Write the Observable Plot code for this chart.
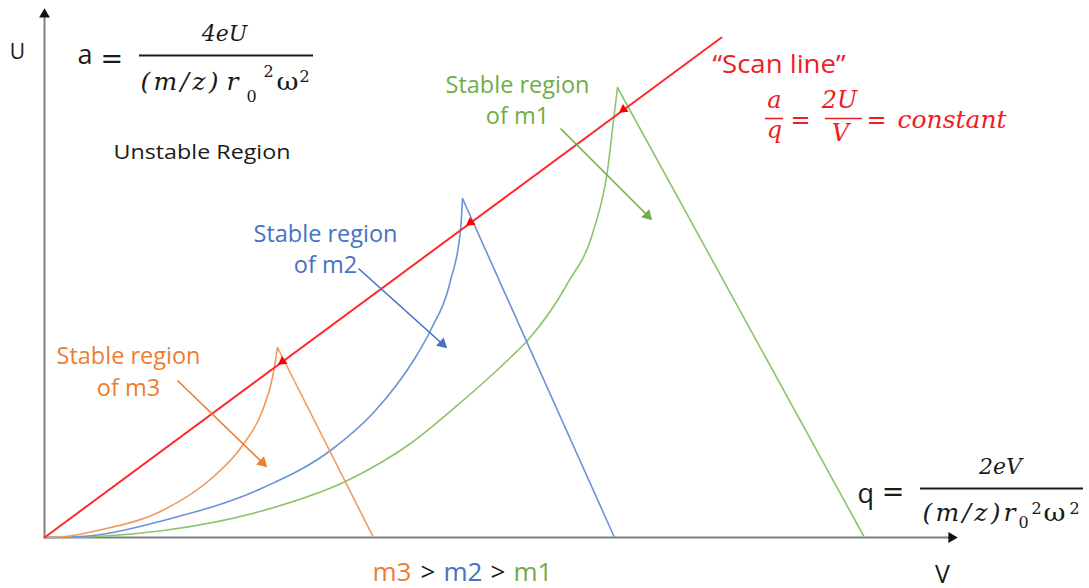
<!DOCTYPE html>
<html><head><meta charset="utf-8">
<script src="https://cdn.jsdelivr.net/npm/d3@7"></script>
<script src="https://cdn.jsdelivr.net/npm/@observablehq/plot@0.6"></script>
<style>body{margin:0;background:#fff}</style>
</head><body><div id="chart"></div>
<script>
// ---- data (V, U in arbitrary units) ----
const masses = ["m1", "m2", "m3"];
const lineColors = {m1: "#8cc46c", m2: "#6a93d6", m3: "#f19a5c"};
const textColors = {m1: "#70ad47", m2: "#4472c4", m3: "#ed7d31"};

// left (curved) boundary of each stability region, ending at the apex
const m1LeftV = [0, 2.5, 5.3, 11.9, 21.9, 30.3, 36.6, 41.5, 46.6, 48.3, 52.3, 54.9, 56.3, 56.9, 57.3];
const m1LeftU = [0, 0.02, 0.1, 0.7, 2.7, 5.7, 9.4, 13.4, 18.0, 19.7, 25.4, 30.7, 36.7, 41.7, 45.0];
const m2LeftV = [0, 2.5, 5.3, 11.9, 21.9, 28.6, 33.0, 36.9, 38.6, 40.6, 41.6, 41.8];
const m2LeftU = [0, 0.05, 0.25, 1.7, 5.0, 8.7, 12.6, 17.7, 20.7, 25.7, 30.7, 33.9];
const m3LeftV = [0, 2.5, 5.3, 11.8, 16.8, 19.8, 21.8, 22.8, 23.3];
const m3LeftU = [0, 0.15, 0.7, 2.7, 6.0, 9.2, 12.7, 16.0, 19.0];
// right (straight) boundary: apex -> q axis
const rightEndV = {m1: 82.0, m2: 57.0, m3: 32.9};

// scan line a/q = const
const scanV = [0, 67.7];
const scanU = [0, 50.0];
// markers where the scan line cuts each region
const scanMarkV = [23.8, 42.6, 57.9];
const scanMarkU = [17.6, 31.5, 42.8];

// label pointer arrows
const pointers = [
  {m: "m1", from: [51.6, 40.9], to: [60.8, 31.7]},
  {m: "m2", from: [31.4, 26.9], to: [40.3, 18.9]},
  {m: "m3", from: [13.3, 15.7], to: [22.3, 7.0]}
];

// axes
const uAxisTop = 52.9;
const vAxisEnd = 91.3;

// ---- build tables ----
const leftCurves = [
  ...m1LeftV.map((v, i) => ({m: "m1", V: v, U: m1LeftU[i]})),
  ...m2LeftV.map((v, i) => ({m: "m2", V: v, U: m2LeftU[i]})),
  ...m3LeftV.map((v, i) => ({m: "m3", V: v, U: m3LeftU[i]}))
];
const apex = {
  m1: [m1LeftV.at(-1), m1LeftU.at(-1)],
  m2: [m2LeftV.at(-1), m2LeftU.at(-1)],
  m3: [m3LeftV.at(-1), m3LeftU.at(-1)]
};
const rightLines = masses.map(m => ({m, x1: apex[m][0], y1: apex[m][1], x2: rightEndV[m], y2: 0}));
const scanLine = scanV.map((v, i) => ({V: v, U: scanU[i]}));
const scanMarks = scanMarkV.map((v, i) => ({V: v, U: scanMarkU[i]}));

const angle = (dx, dy) => Math.atan2(dx, dy) * 180 / Math.PI;
function head(from, to, back) {
  const dx = to[0] - from[0], dy = to[1] - from[1];
  const L = Math.hypot(dx, dy);
  return {V: to[0] - back * dx / L, U: to[1] - back * dy / L, rot: angle(dx, dy)};
}
const pointerShafts = pointers.map(p => {
  const h = head(p.from, p.to, 0.6);
  return {m: p.m, x1: p.from[0], y1: p.from[1], x2: h.V, y2: h.U};
});
const pointerHeads = pointers.map(p => ({m: p.m, ...head(p.from, p.to, 0.7)}));
const scanDir = [-(scanV[1] - scanV[0]), -(scanU[1] - scanU[0])];
const scanHeads = scanMarks.map(d => ({...d, rot: angle(scanDir[0], scanDir[1])}));
const axisLines = [
  {x1: 0, y1: 0, x2: 0, y2: uAxisTop - 0.5},
  {x1: 0, y1: 0, x2: vAxisEnd - 0.5, y2: 0}
];
const axisHeads = [
  {...head([0, 0], [0, uAxisTop], 0.6)},
  {...head([0, 0], [vAxisEnd, 0], 0.6)}
];

const sans = "'Open Sans', sans-serif";
const serif = "'DejaVu Serif', serif";
const txt = (t, x, y, o = {}) => Plot.text([t], {x: () => x, y: () => y, text: d => d, lineAnchor: "bottom", fontFamily: sans, fill: "#1a1a1a", ...o});
const it = {fontFamily: serif, fontStyle: "italic"};
const up = {fontFamily: serif, textAnchor: "start"};
const red = "#ee1c25";

// widths (px) that the picture's wider lettering takes
const textWidths = {
  "Unstable Region": [177, "spacingAndGlyphs"],
  "“Scan line”": [133, "spacingAndGlyphs"],
  "(m/z)": [78, "spacing"],
  "ω": [22, "spacingAndGlyphs"]
};

const chart = Plot.plot({
  width: 1089,
  height: 588,
  margin: 0,
  x: {domain: [0, 104.5], range: [44, 1089], axis: null},
  y: {domain: [0, 53.7], range: [537, 0], axis: null},
  marks: [
    // axes
    Plot.link(axisLines, {x1: "x1", y1: "y1", x2: "x2", y2: "y2", stroke: "#7f7f7f", strokeWidth: 2}),
    Plot.dot(axisHeads, {x: "V", y: "U", rotate: "rot", symbol: "triangle", r: 4, fill: "#111", stroke: null}),
    // stability regions
    Plot.line(leftCurves, {x: "V", y: "U", z: "m", stroke: d => lineColors[d.m], strokeWidth: 1.6, curve: "monotone-x"}),
    Plot.link(rightLines, {x1: "x1", y1: "y1", x2: "x2", y2: "y2", stroke: d => lineColors[d.m], strokeWidth: 1.6}),
    // scan line
    Plot.line(scanLine, {x: "V", y: "U", stroke: "#ff2a2a", strokeWidth: 2}),
    Plot.dot(scanHeads, {x: "V", y: "U", rotate: "rot", symbol: "triangle", r: 3.6, fill: "#ff0000", stroke: null}),
    // pointer arrows
    Plot.link(pointerShafts, {x1: "x1", y1: "y1", x2: "x2", y2: "y2", stroke: d => textColors[d.m], strokeWidth: 1.6}),
    Plot.dot(pointerHeads, {x: "V", y: "U", rotate: "rot", symbol: "triangle", r: 4.2, fill: d => textColors[d.m], stroke: null}),
    // axis labels
    txt("U", -2.7, 47.9, {fontSize: 21}),
    txt("V", 89.8, -4.5, {fontSize: 25}),
    // a formula
    txt("a", 3.3, 47.4, {fontSize: 27, textAnchor: "start"}),
    txt("=", 5.6, 47.0, {fontSize: 27, ...up}),
    txt("4eU", 18.0, 49.7, {fontSize: 22, ...it}),
    Plot.ruleY([48.2], {x1: 9.5, x2: 26.9, stroke: "#1a1a1a", strokeWidth: 2}),
    txt("(m/z)", 9.6, 44.8, {fontSize: 25, ...it, textAnchor: "start"}),
    txt("r", 18.2, 44.8, {fontSize: 25, ...it, textAnchor: "start"}),
    txt("0", 20.2, 43.6, {fontSize: 16, ...up}),
    txt("2", 21.9, 46.1, {fontSize: 16, ...up}),
    txt("ω", 23.2, 44.8, {fontSize: 25, ...up}),
    txt("2", 25.5, 45.6, {fontSize: 16, ...up}),
    txt("Unstable Region", 6.9, 37.9, {fontSize: 20.5, textAnchor: "start"}),
    // region labels
    txt("Stable region\nof m1", 47.3, 41.4, {fontSize: 23.5, lineHeight: 1.28, fill: textColors.m1}),
    txt("Stable region\nof m2", 28.1, 26.5, {fontSize: 23.5, lineHeight: 1.28, fill: textColors.m2}),
    txt("Stable region\nof m3", 8.4, 14.2, {fontSize: 23.5, lineHeight: 1.36, fill: textColors.m3}),
    // scan line label
    txt("“Scan line”", 66.8, 46.5, {fontSize: 25, textAnchor: "start", fill: red}),
    txt("a", 73.0, 43.0, {fontSize: 24, ...it, fill: red}),
    Plot.ruleY([41.9], {x1: 72.1, x2: 73.9, stroke: red, strokeWidth: 1.6}),
    txt("q", 73.0, 40.0, {fontSize: 24, ...it, fill: red}),
    txt("=", 75.6, 41.0, {fontSize: 24, fontFamily: serif, fill: red}),
    txt("2U", 79.5, 43.0, {fontSize: 24, ...it, fill: red}),
    Plot.ruleY([41.9], {x1: 78.1, x2: 81.8, stroke: red, strokeWidth: 1.6}),
    txt("V", 79.6, 39.7, {fontSize: 24, ...it, fill: red}),
    txt("=", 83.2, 41.0, {fontSize: 24, fontFamily: serif, fill: red}),
    txt("constant", 85.3, 41.0, {fontSize: 25, ...it, textAnchor: "start", fill: red}),
    // q formula
    txt("q", 81.3, 3.5, {fontSize: 27, textAnchor: "start"}),
    txt("=", 84.85, 3.7, {fontSize: 27, fontFamily: serif}),
    txt("2eV", 95.6, 6.4, {fontSize: 22, ...it}),
    Plot.ruleY([4.9], {x1: 87.6, x2: 103.9, stroke: "#1a1a1a", strokeWidth: 2}),
    txt("(m/z)", 87.8, 1.7, {fontSize: 25, ...it, textAnchor: "start"}),
    txt("r", 95.9, 1.7, {fontSize: 25, ...it, textAnchor: "start"}),
    txt("0", 97.4, 1.0, {fontSize: 16, ...up}),
    txt("2", 98.7, 2.4, {fontSize: 16, ...up}),
    txt("ω", 99.9, 1.7, {fontSize: 25, ...up}),
    txt("2", 102.5, 2.4, {fontSize: 16, ...up}),
    // mass ordering
    txt("m3", 32.8, -4.3, {fontSize: 26, textAnchor: "start", fill: textColors.m3}),
    txt(">", 37.6, -4.3, {fontSize: 26, textAnchor: "start"}),
    txt("m2", 39.9, -4.3, {fontSize: 26, textAnchor: "start", fill: textColors.m2}),
    txt(">", 44.6, -4.3, {fontSize: 26, textAnchor: "start"}),
    txt("m1", 46.9, -4.3, {fontSize: 26, textAnchor: "start", fill: textColors.m1})
  ]
});
d3.select(chart).selectAll("text").each(function() {
  const w = textWidths[this.textContent];
  if (w && !this.querySelector("tspan")) {
    this.setAttribute("textLength", w[0]);
    this.setAttribute("lengthAdjust", w[1]);
  }
});
document.getElementById("chart").append(chart);
</script>
</body></html>
